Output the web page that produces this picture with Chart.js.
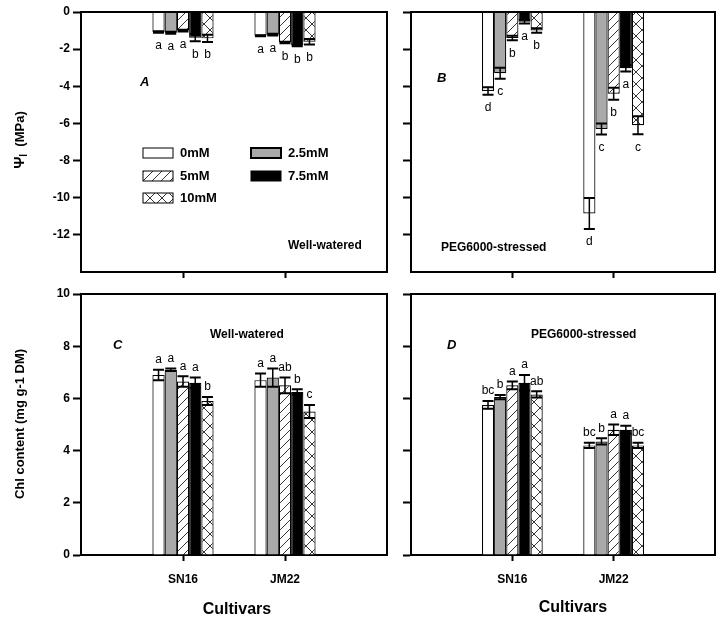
<!DOCTYPE html>
<html>
<head>
<meta charset="utf-8">
<script src="https://cdn.jsdelivr.net/npm/chart.js@4.4.1/dist/chart.umd.min.js"></script>
<style>
  html, body { margin: 0; padding: 0; background: #fff; }
  #wrap { position: relative; width: 726px; height: 626px; }
  #wrap canvas { position: absolute; left: 0; top: 0; }
</style>
</head>
<body>
<div id="wrap">
  <canvas id="panelA" width="726" height="626"></canvas>
  <canvas id="panelB" width="726" height="626"></canvas>
  <canvas id="panelC" width="726" height="626"></canvas>
  <canvas id="panelD" width="726" height="626"></canvas>
</div>
<script>
const FONT = 'Arial, "Liberation Sans", Helvetica, sans-serif';

// data, one row per treatment: [SN16, JM22]
const cultivars = ['SN16', 'JM22'];
const treatments = ['0mM', '2.5mM', '5mM', '7.5mM', '10mM'];

// A - leaf water potential, well-watered (MPa)
const psiWellMean = [[-1.08, -1.28], [-1.12, -1.22], [-1.0, -1.64], [-1.38, -1.8], [-1.42, -1.6]];
const psiWellErr  = [[0.04, 0.03], [0.05, 0.05], [0.05, 0.04], [0.2, 0.05], [0.2, 0.15]];
const psiWellSig  = [['a', 'a'], ['a', 'a'], ['a', 'b'], ['b', 'b'], ['b', 'b']];

// B - leaf water potential, PEG6000-stressed (MPa)
const psiPegMean = [[-4.25, -10.85], [-3.3, -6.3], [-1.4, -4.4], [-0.52, -3.03], [-1.0, -6.1]];
const psiPegErr  = [[0.2, 0.83], [0.3, 0.3], [0.12, 0.32], [0.1, 0.18], [0.12, 0.48]];
const psiPegSig  = [['d', 'd'], ['c', 'c'], ['b', 'b'], ['a', 'a'], ['b', 'c']];

// C - chlorophyll content, well-watered (mg g-1 DM)
const chlWellMean = [[6.9, 6.7], [7.1, 6.8], [6.65, 6.5], [6.6, 6.25], [5.9, 5.5]];
const chlWellErr  = [[0.2, 0.25], [0.05, 0.35], [0.2, 0.3], [0.2, 0.1], [0.15, 0.25]];
const chlWellSig  = [['a', 'a'], ['a', 'a'], ['a', 'ab'], ['a', 'b'], ['b', 'c']];

// D - chlorophyll content, PEG6000-stressed (mg g-1 DM)
const chlPegMean = [[5.75, 4.2], [6.05, 4.35], [6.5, 4.8], [6.6, 4.8], [6.15, 4.2]];
const chlPegErr  = [[0.15, 0.1], [0.08, 0.12], [0.15, 0.2], [0.3, 0.15], [0.12, 0.1]];
const chlPegSig  = [['bc', 'bc'], ['b', 'b'], ['a', 'a'], ['a', 'a'], ['ab', 'bc']];

// y tick labels that are printed
const psiTickLabels = [0, -2, -4, -6, -8, -10, -12];
const chlTickLabels = [0, 2, 4, 6, 8, 10];

// fills
function hatch(size, cross) {
  const c = document.createElement('canvas');
  c.width = size; c.height = size;
  const g = c.getContext('2d');
  g.fillStyle = '#fff';
  g.fillRect(0, 0, size, size);
  g.strokeStyle = '#000';
  g.lineWidth = 0.8;
  g.beginPath();
  g.moveTo(-1, size + 1); g.lineTo(size + 1, -1);
  if (cross) {
    g.moveTo(-1, -1); g.lineTo(size + 1, size + 1);
  }
  g.stroke();
  return g.createPattern(c, 'repeat');
}
const fills = ['#ffffff', '#a9a9a9', hatch(9, false), '#000000', hatch(12, true)];

Chart.defaults.font.family = FONT;
Chart.defaults.color = '#000';

const panelPlugin = {
  id: 'panel',
  afterDatasetsDraw(chart) {
    const ctx = chart.ctx;
    const y = chart.scales.y;
    ctx.save();
    chart.data.datasets.forEach((ds, di) => {
      const meta = chart.getDatasetMeta(di);
      meta.data.forEach((bar, i) => {
        const v = ds.data[i];
        if (v == null) return;
        const e = ds.errors[i];
        const x = bar.x;
        const y1 = y.getPixelForValue(v - e);
        const y2 = y.getPixelForValue(v + e);
        ctx.strokeStyle = '#000';
        ctx.lineWidth = 1.5;
        ctx.beginPath();
        ctx.moveTo(x, y1); ctx.lineTo(x, y2);
        ctx.stroke();
        ctx.lineWidth = 2;
        ctx.beginPath();
        ctx.moveTo(x - 5.5, y1); ctx.lineTo(x + 5.5, y1);
        ctx.moveTo(x - 5.5, y2); ctx.lineTo(x + 5.5, y2);
        ctx.stroke();
        // significance letter
        ctx.fillStyle = '#000';
        ctx.font = '12px ' + FONT;
        ctx.textAlign = 'center';
        ctx.textBaseline = 'middle';
        if (v < 0) {
          ctx.fillText(ds.letters[i], x, y.getPixelForValue(v - e) + 13);
        } else {
          ctx.fillText(ds.letters[i], x, y.getPixelForValue(v + e) - 10);
        }
      });
    });
    ctx.restore();
  },
  afterDraw(chart, args, opts) {
    const ctx = chart.ctx;
    const a = chart.chartArea;
    ctx.save();
    // box
    ctx.strokeStyle = '#000';
    ctx.lineWidth = 2;
    ctx.beginPath();
    ctx.moveTo(a.left, a.top);
    ctx.lineTo(a.right, a.top);
    ctx.lineTo(a.right, a.bottom);
    ctx.stroke();

    ctx.fillStyle = '#000';
    (opts.texts || []).forEach(t => {
      ctx.font = t.font + ' ' + FONT;
      ctx.textAlign = t.align || 'left';
      ctx.textBaseline = 'middle';
      if (t.rotate) {
        ctx.save();
        ctx.translate(t.x, t.y);
        ctx.rotate(-Math.PI / 2);
        ctx.textAlign = 'center';
        ctx.fillText(t.text, 0, 0);
        ctx.restore();
      } else {
        ctx.fillText(t.text, t.x, t.y);
      }
    });

    if (opts.psiTitle) {
      // Ψl (MPa), l as subscript
      const parts = [
        { s: 'Ψ', f: 'bold 15px', dy: 0 },
        { s: 'l', f: 'bold 10px', dy: 4 },
        { s: '  (MPa)', f: 'bold 13px', dy: 0 }
      ];
      let total = 0;
      parts.forEach(p => { ctx.font = p.f + ' ' + FONT; p.w = ctx.measureText(p.s).width; total += p.w; });
      ctx.save();
      ctx.translate(20, 140);
      ctx.rotate(-Math.PI / 2);
      ctx.textAlign = 'left';
      ctx.textBaseline = 'middle';
      let px = -total / 2;
      parts.forEach(p => {
        ctx.font = p.f + ' ' + FONT;
        ctx.fillText(p.s, px, p.dy);
        px += p.w;
      });
      ctx.restore();
    }

    if (opts.legend) {
      const pos = [[143, 153], [251, 153], [143, 176], [251, 176], [143, 198]];
      treatments.forEach((name, k) => {
        const [lx, ly] = pos[k];
        ctx.fillStyle = fills[k];
        ctx.fillRect(lx, ly - 5, 30, 10);
        ctx.strokeStyle = '#000';
        ctx.lineWidth = k === 1 ? 2 : 1;
        ctx.strokeRect(lx, ly - 5, 30, 10);
        ctx.fillStyle = '#000';
        ctx.font = 'bold 13px ' + FONT;
        ctx.textAlign = 'left';
        ctx.textBaseline = 'middle';
        ctx.fillText(name, lx + 37, ly);
      });
    }
    ctx.restore();
  }
};

function makePanel(id, cfg) {
  const isPsi = cfg.min < 0;
  const labelSet = isPsi ? psiTickLabels : chlTickLabels;
  const hiddenTick = isPsi ? cfg.min : null;
  return new Chart(document.getElementById(id), {
    type: 'bar',
    data: {
      labels: ['', ...cultivars, ''],
      datasets: treatments.map((t, k) => ({
        label: t,
        data: [null, ...cfg.mean[k], null],
        errors: [null, ...cfg.err[k], null],
        letters: [null, ...cfg.sig[k], null],
        backgroundColor: fills[k],
        borderColor: '#000',
        borderWidth: 1.2
      }))
    },
    options: {
      responsive: false,
      animation: false,
      events: [],
      layout: { padding: cfg.pad },
      datasets: { bar: { categoryPercentage: 0.6, barPercentage: 1 } },
      plugins: {
        legend: { display: false },
        tooltip: { enabled: false },
        panel: cfg.panel
      },
      scales: {
        x: {
          type: 'category',
          offset: false,
          grid: {
            offset: false,
            drawOnChartArea: false,
            tickLength: 6,
            tickWidth: 2,
            tickColor: c => (c.index === 0 || c.index === 3) ? 'rgba(0,0,0,0)' : '#000'
          },
          border: { color: '#000', width: 2 },
          ticks: {
            autoSkip: false,
            maxRotation: 0,
            padding: 11,
            font: { size: 12, weight: 'bold' },
            callback: function (v) { return cfg.showX ? this.getLabelForValue(v) : ''; }
          },
          afterFit: s => { s.height = 40; }
        },
        y: {
          min: cfg.min,
          max: cfg.max,
          grid: {
            drawOnChartArea: false,
            tickLength: 8,
            tickWidth: 2,
            tickColor: c => (c.tick && c.tick.value === hiddenTick) ? 'rgba(0,0,0,0)' : '#000'
          },
          border: { color: '#000', width: 2 },
          ticks: {
            stepSize: 2,
            padding: 3,
            font: { size: 12, weight: 'bold' },
            callback: v => (cfg.showY && labelSet.includes(v)) ? String(v) : ''
          },
          afterFit: s => { s.width = 60; }
        }
      }
    },
    plugins: [panelPlugin]
  });
}

// panel A
makePanel('panelA', {
  mean: psiWellMean, err: psiWellErr, sig: psiWellSig,
  min: -14, max: 0, showY: true, showX: false,
  pad: { left: 21, top: 12, right: 339, bottom: 314 },
  panel: {
    legend: true,
    psiTitle: true,
    texts: [
      { text: 'A', x: 140, y: 82, font: 'italic bold 13px' },
      { text: 'Well-watered', x: 288, y: 246, font: 'bold 12px' }
    ]
  }
});

// panel B
makePanel('panelB', {
  mean: psiPegMean, err: psiPegErr, sig: psiPegSig,
  min: -14, max: 0, showY: false, showX: false,
  pad: { left: 351, top: 12, right: 9, bottom: 314 },
  panel: {
    texts: [
      { text: 'B', x: 437, y: 78, font: 'italic bold 13px' },
      { text: 'PEG6000-stressed', x: 441, y: 248, font: 'bold 12px' }
    ]
  }
});

// panel C
makePanel('panelC', {
  mean: chlWellMean, err: chlWellErr, sig: chlWellSig,
  min: 0, max: 10, showY: true, showX: true,
  pad: { left: 21, top: 294, right: 339, bottom: 31 },
  panel: {
    texts: [
      { text: 'C', x: 113, y: 345, font: 'italic bold 13px' },
      { text: 'Well-watered', x: 210, y: 335, font: 'bold 12px' },
      { text: 'Chl content (mg g-1 DM)', x: 20, y: 424, font: 'bold 13px', rotate: true },
      { text: 'Cultivars', x: 237, y: 610, font: 'bold 16px', align: 'center' }
    ]
  }
});

// panel D
makePanel('panelD', {
  mean: chlPegMean, err: chlPegErr, sig: chlPegSig,
  min: 0, max: 10, showY: false, showX: true,
  pad: { left: 351, top: 294, right: 9, bottom: 31 },
  panel: {
    texts: [
      { text: 'D', x: 447, y: 345, font: 'italic bold 13px' },
      { text: 'PEG6000-stressed', x: 531, y: 335, font: 'bold 12px' },
      { text: 'Cultivars', x: 573, y: 608, font: 'bold 16px', align: 'center' }
    ]
  }
});
</script>
</body>
</html>
